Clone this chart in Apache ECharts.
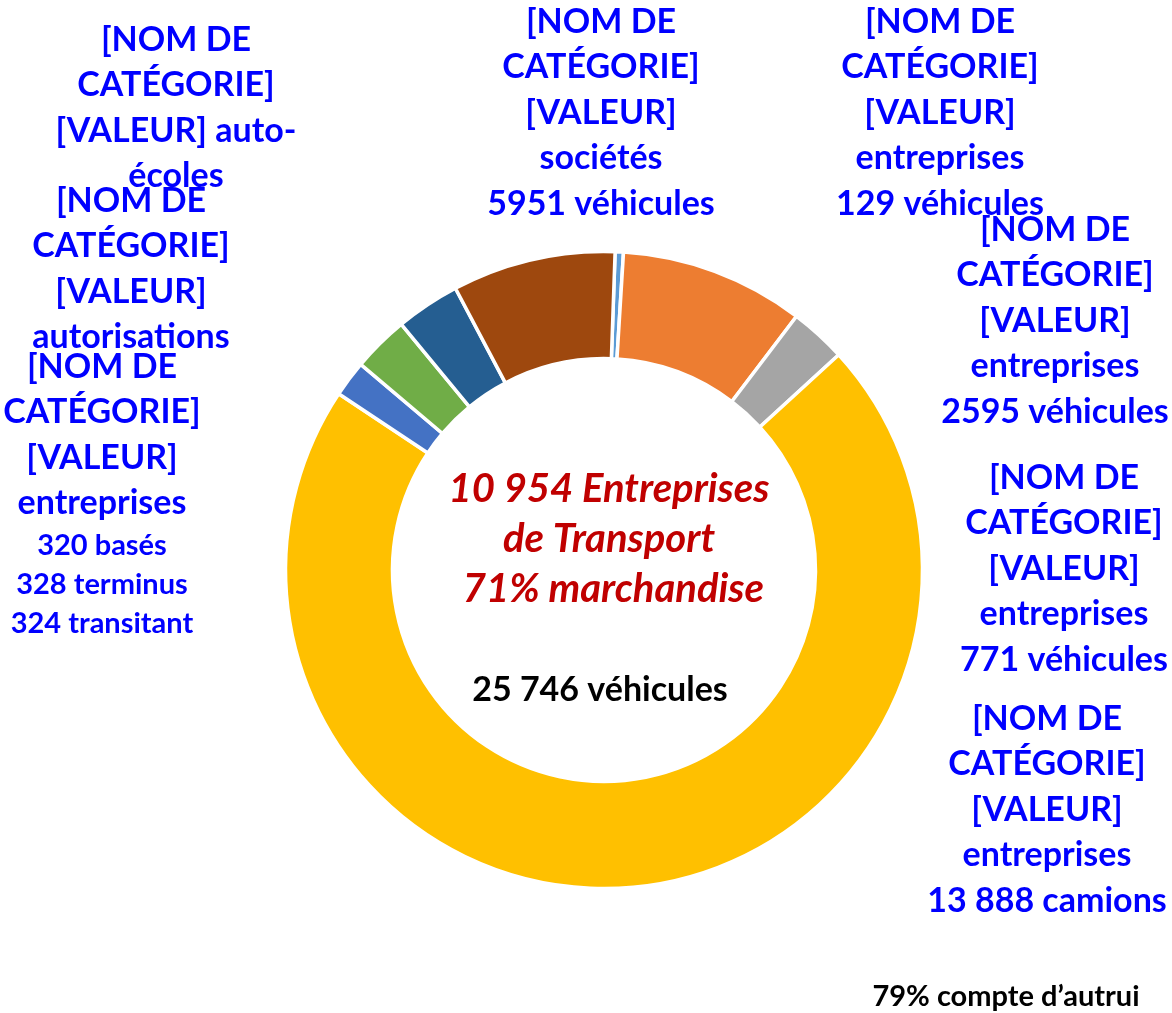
<!DOCTYPE html>
<html>
<head>
    <meta charset="utf-8">
    <title>Entreprises de transport</title>
    <script src="https://cdn.jsdelivr.net/npm/echarts@6/dist/echarts.min.js"></script>
    <style>
        html, body { margin: 0; padding: 0; background: #fff; }
        #chart { width: 1172px; height: 1013px; }
    </style>
</head>
<body>
<div id="chart"></div>
<script>
// slices, clockwise from the top
var categories = ['Entreprises (129 véhicules)', 'Entreprises (2595 véhicules)', 'Entreprises (771 véhicules)',
    'Entreprises marchandise', 'Entreprises étrangères', 'Autorisations', 'Auto-écoles', 'Sociétés'];
var values = [46, 1025, 313, 7793, 201, 313, 356, 907];

var labelTexts = [
    '[NOM DE\nCATÉGORIE]\n[VALEUR]\nentreprises\n129 véhicules',
    '[NOM DE\nCATÉGORIE]\n[VALEUR]\nentreprises\n2595 véhicules',
    '[NOM DE\nCATÉGORIE]\n[VALEUR]\nentreprises\n771 véhicules',
    '[NOM DE\nCATÉGORIE]\n[VALEUR]\nentreprises\n13 888 camions',
    '[NOM DE\nCATÉGORIE]\n[VALEUR]\nentreprises',
    '[NOM DE\nCATÉGORIE]\n[VALEUR]\nautorisations',
    '[NOM DE\nCATÉGORIE]\n[VALEUR] auto-\nécoles',
    '[NOM DE\nCATÉGORIE]\n[VALEUR]\nsociétés\n5951 véhicules'
];
var subLabel = '320 basés\n328 terminus\n324 transitant';
var centerTitle = '10 954 Entreprises\nde Transport\n 71% marchandise';
var centerSub = '25 746 véhicules';
var footNote = '79% compte d’autrui';

// label anchors (center x, top y)
var labelPos = [[940, -1], [1055, 207], [1064, 455], [1047, 696], [102, 344], [131, 178], [176, 17], [601, -1]];

var colors = ['#5B9BD5', '#ED7D31', '#A5A5A5', '#FFC000', '#4472C4', '#70AD47', '#255E91', '#9E480E'];
var FONT = 'Lato, "Open Sans", sans-serif';
var BIG = 34;

var chart = echarts.init(document.getElementById('chart'));

var graphics = labelTexts.map(function (t, i) {
    return {
        type: 'text', x: labelPos[i][0], y: labelPos[i][1],
        style: { text: t, fill: '#0000FF', fontFamily: FONT, fontWeight: 'bold', fontSize: BIG,
                 lineHeight: 45.5, align: 'center', verticalAlign: 'top' }
    };
});
graphics.push({
    type: 'text', x: 102, y: 526,
    style: { text: subLabel, fill: '#0000FF', fontFamily: FONT, fontWeight: 'bold', fontSize: 29,
             lineHeight: 39, align: 'center', verticalAlign: 'top' }
});
graphics.push({
    type: 'text', x: 609, y: 464,
    style: { text: centerTitle, fill: '#C00000', fontFamily: FONT, fontWeight: 'bold', fontStyle: 'italic',
             fontSize: 40, lineHeight: 50, align: 'center', verticalAlign: 'top' }
});
graphics.push({
    type: 'text', x: 600, y: 690,
    style: { text: centerSub, fill: '#000', fontFamily: FONT, fontWeight: 'bold', fontSize: BIG,
             align: 'center', verticalAlign: 'middle' }
});
graphics.push({
    type: 'text', x: 1006, y: 997,
    style: { text: footNote, fill: '#000', fontFamily: FONT, fontWeight: 'bold', fontSize: 29,
             align: 'center', verticalAlign: 'middle' }
});

var option = {
    color: colors,
    animation: false,
    series: [{
        type: 'pie',
        center: [604, 570],
        radius: [211.5, 318.5],
        startAngle: 88,
        clockwise: true,
        avoidLabelOverlap: false,
        label: { show: false },
        labelLine: { show: false },
        emphasis: { disabled: true },
        itemStyle: { borderColor: '#fff', borderWidth: 3.5 },
        data: categories.map(function (c, i) { return { name: c, value: values[i] }; })
    }],
    graphic: graphics
};

chart.setOption(option);
</script>
</body>
</html>
